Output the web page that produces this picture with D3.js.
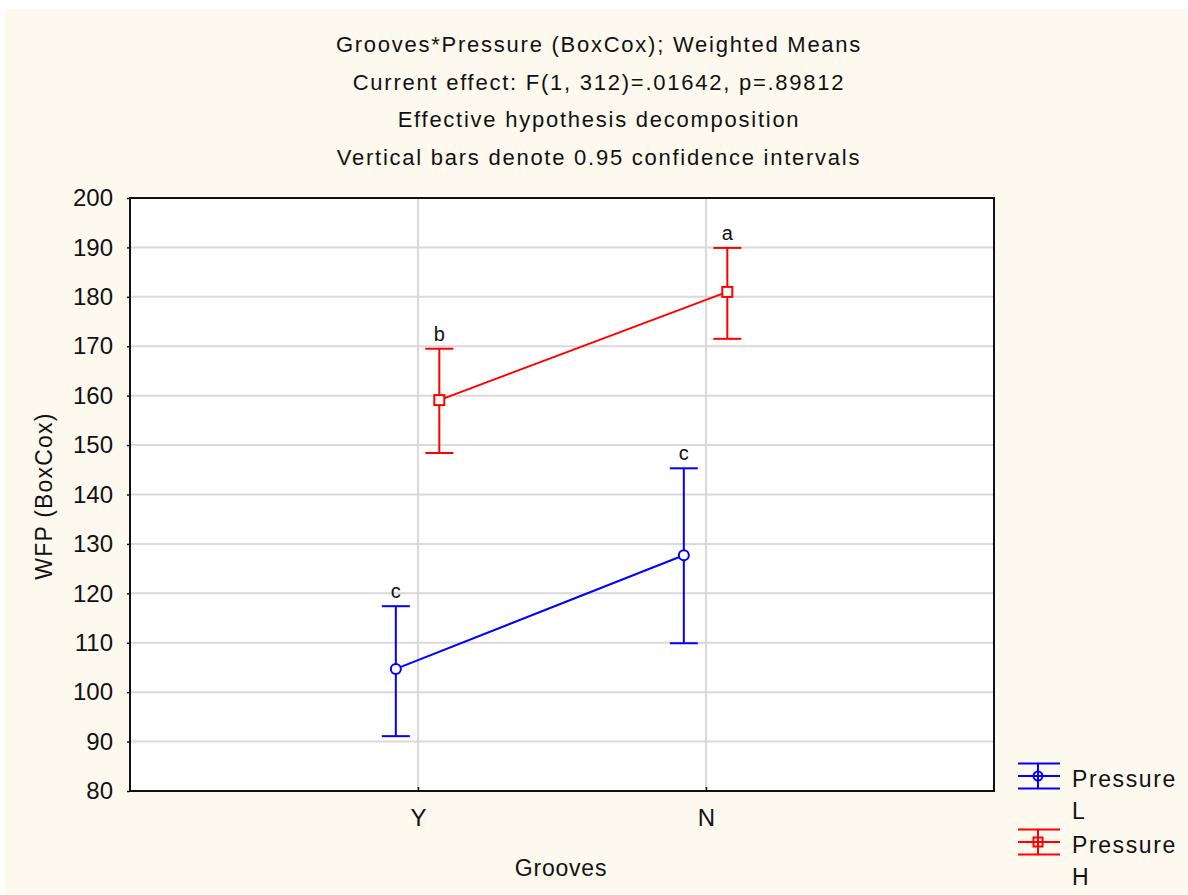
<!DOCTYPE html>
<html>
<head>
<meta charset="utf-8">
<script src="https://cdn.jsdelivr.net/npm/d3@7"></script>
<style>
  html, body { margin: 0; padding: 0; background: #ffffff; }
  svg { display: block; }
  text { font-family: Arial, "Liberation Sans", sans-serif; fill: #111; }
</style>
</head>
<body>
<svg id="chart" width="1188" height="895"></svg>
<script>
// Grooves x Pressure interaction: weighted means with 95% confidence intervals
const groups = ["Y", "N"];
const seriesNames = ["Pressure\nL", "Pressure\nH"];

const meansL = [104.7, 127.7];
const lowerL = [91.1, 109.9];
const upperL = [117.4, 145.3];
const lettersL = ["c", "c"];

const meansH = [159.1, 181.0];
const lowerH = [148.4, 171.5];
const upperH = [169.5, 189.9];
const lettersH = ["b", "a"];

const yTicks = [80, 90, 100, 110, 120, 130, 140, 150, 160, 170, 180, 190, 200];
const titleLines = [
  "Grooves*Pressure (BoxCox); Weighted Means",
  "Current effect: F(1, 312)=.01642, p=.89812",
  "Effective hypothesis decomposition",
  "Vertical bars denote 0.95 confidence intervals"
];

const series = [
  { name: "L", color: "#0000ff", marker: "circle", offset: -0.077, mean: meansL, lo: lowerL, hi: upperL, letters: lettersL },
  { name: "H", color: "#ff0000", marker: "square", offset: 0.074, mean: meansH, lo: lowerH, hi: upperH, letters: lettersH }
];

const svg = d3.select("#chart");
const W = 1188, H = 895;
const plot = { left: 130, right: 994, top: 198, bottom: 791 };

// page background
svg.append("rect").attr("x", 5).attr("y", 9).attr("width", W - 5).attr("height", H - 9)
  .attr("fill", "#fdf9ee");

// plot panel
svg.append("rect").attr("x", plot.left).attr("y", plot.top)
  .attr("width", plot.right - plot.left).attr("height", plot.bottom - plot.top)
  .attr("fill", "#ffffff");

const x = d3.scaleLinear().domain([0, groups.length + 1]).range([plot.left, plot.right]);
const y = d3.scaleLinear().domain([80, 200]).range([plot.bottom, plot.top]);

// grid lines
const grid = svg.append("g").attr("stroke", "#d9d9d9").attr("stroke-width", 2);
grid.selectAll("line.h").data(yTicks.filter(t => t > 80 && t < 200)).join("line")
  .attr("x1", plot.left).attr("x2", plot.right)
  .attr("y1", d => y(d)).attr("y2", d => y(d));
grid.selectAll("line.v").data(groups).join("line")
  .attr("x1", (d, i) => x(i + 1)).attr("x2", (d, i) => x(i + 1))
  .attr("y1", plot.top).attr("y2", plot.bottom);

// y axis
const yAxis = d3.axisLeft(y).tickValues(yTicks).tickSize(3).tickPadding(14);
const gy = svg.append("g").attr("transform", `translate(${plot.left},0)`).call(yAxis);
gy.select(".domain").remove();
gy.selectAll(".tick line").attr("stroke", "#111").attr("stroke-width", 1.5);
gy.selectAll(".tick text").attr("font-size", 24).attr("font-family", "Arial, 'Liberation Sans', sans-serif").attr("fill", "#111");

// x axis
const xAxis = d3.axisBottom(x).tickValues(groups.map((g, i) => i + 1))
  .tickFormat((d) => groups[d - 1]).tickSize(-4).tickPadding(18);
const gx = svg.append("g").attr("transform", `translate(0,${plot.bottom})`).call(xAxis);
gx.select(".domain").remove();
gx.selectAll(".tick line").attr("stroke", "#111").attr("stroke-width", 1.5);
gx.selectAll(".tick text").attr("font-size", 24).attr("font-family", "Arial, 'Liberation Sans', sans-serif").attr("fill", "#111");

// frame
svg.append("rect").attr("x", plot.left).attr("y", plot.top)
  .attr("width", plot.right - plot.left).attr("height", plot.bottom - plot.top)
  .attr("fill", "none").attr("stroke", "#111").attr("stroke-width", 2);

// series: connecting lines, error bars, markers, letter labels
const capHalf = 14;
series.forEach(s => {
  const pts = groups.map((g, i) => ({ x: x(i + 1 + s.offset), m: s.mean[i], lo: s.lo[i], hi: s.hi[i], letter: s.letters[i] }));
  const g = svg.append("g");
  g.append("path")
    .attr("d", d3.line().x(d => d.x).y(d => y(d.m))(pts))
    .attr("fill", "none").attr("stroke", s.color).attr("stroke-width", 2);
  pts.forEach(p => {
    g.append("line").attr("x1", p.x).attr("x2", p.x).attr("y1", y(p.hi)).attr("y2", y(p.lo))
      .attr("stroke", s.color).attr("stroke-width", 2);
    [p.hi, p.lo].forEach(v => {
      g.append("line").attr("x1", p.x - capHalf).attr("x2", p.x + capHalf)
        .attr("y1", y(v)).attr("y2", y(v)).attr("stroke", s.color).attr("stroke-width", 2);
    });
    if (s.marker === "circle") {
      g.append("circle").attr("cx", p.x).attr("cy", y(p.m)).attr("r", 5)
        .attr("fill", "#ffffff").attr("stroke", s.color).attr("stroke-width", 2);
    } else {
      g.append("rect").attr("x", p.x - 5).attr("y", y(p.m) - 5).attr("width", 10).attr("height", 10)
        .attr("fill", "#ffffff").attr("stroke", s.color).attr("stroke-width", 2);
    }
    g.append("text").attr("x", p.x).attr("y", y(p.hi) - 8)
      .attr("text-anchor", "middle").attr("font-size", 20).text(p.letter);
  });
});

// titles
svg.selectAll("text.title").data(titleLines).join("text")
  .attr("class", "title")
  .attr("x", 599).attr("y", (d, i) => 52 + i * 37.5)
  .attr("text-anchor", "middle").attr("font-size", 22).attr("letter-spacing", 1.75)
  .text(d => d);

// axis titles
svg.append("text").attr("x", 561).attr("y", 876).attr("text-anchor", "middle")
  .attr("font-size", 23).attr("letter-spacing", 0.8).text("Grooves");
svg.append("text").attr("transform", "translate(52,496) rotate(-90)").attr("text-anchor", "middle")
  .attr("font-size", 23).attr("letter-spacing", 1.2).text("WFP (BoxCox)");

// legend
series.forEach((s, k) => {
  const cy = 776 + k * 66;
  const lg = svg.append("g").attr("stroke", s.color).attr("stroke-width", 2).attr("fill", "none");
  [-12.5, 0, 12.5].forEach(dy => {
    lg.append("line").attr("x1", 1018).attr("x2", 1060).attr("y1", cy + dy).attr("y2", cy + dy);
  });
  lg.append("line").attr("x1", 1038).attr("x2", 1038).attr("y1", cy - 12.5).attr("y2", cy + 12.5);
  if (s.marker === "circle") {
    lg.append("circle").attr("cx", 1038).attr("cy", cy).attr("r", 4.5).attr("fill", "none");
  } else {
    lg.append("rect").attr("x", 1033.5).attr("y", cy - 4.5).attr("width", 9).attr("height", 9);
  }
  const lines = seriesNames[k].split("\n");
  svg.append("text").attr("x", 1072).attr("y", cy + 11).attr("font-size", 23).attr("letter-spacing", 1.6)
    .selectAll("tspan").data(lines).join("tspan")
    .attr("x", 1072).attr("dy", (d, i) => i === 0 ? 0 : 32).text(d => d);
});
</script>
</body>
</html>
